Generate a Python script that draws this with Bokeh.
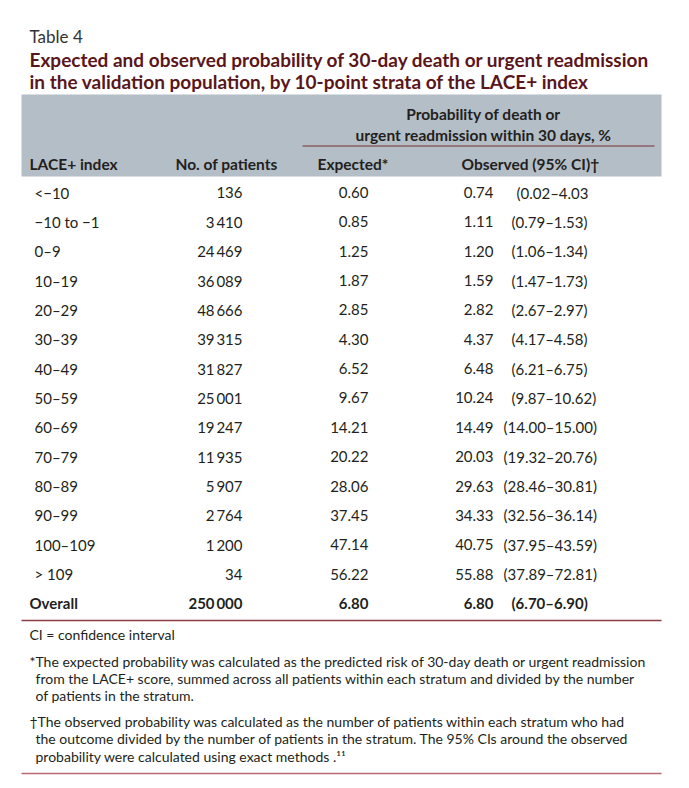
from bokeh.plotting import figure
from bokeh.models import Range1d
from bokeh.core.properties import value
from bokeh.embed import file_html
from bokeh.resources import INLINE

# ---------------- data ----------------
lace_index = ["<\u221210", "\u221210 to \u22121", "0\u20139", "10\u201319", "20\u201329", "30\u201339",
              "40\u201349", "50\u201359", "60\u201369", "70\u201379", "80\u201389", "90\u201399",
              "100\u2013109", "> 109"]
n_patients = [136, 3410, 24469, 36089, 48666, 39315, 31827, 25001, 19247, 11935, 5907, 2764, 1200, 34]
expected = [0.60, 0.85, 1.25, 1.87, 2.85, 4.30, 6.52, 9.67, 14.21, 20.22, 28.06, 37.45, 47.14, 56.22]
observed = [0.74, 1.11, 1.20, 1.59, 2.82, 4.37, 6.48, 10.24, 14.49, 20.03, 29.63, 34.33, 40.75, 55.88]
ci_low = [0.02, 0.79, 1.06, 1.47, 2.67, 4.17, 6.21, 9.87, 14.00, 19.32, 28.46, 32.56, 37.95, 37.89]
ci_high = [4.03, 1.53, 1.34, 1.73, 2.97, 4.58, 6.75, 10.62, 15.00, 20.76, 30.81, 36.14, 43.59, 72.81]
overall_label = "Overall"
overall_n = 250000
overall_expected = 6.80
overall_observed = 6.80
overall_ci_low = 6.70
overall_ci_high = 6.90

title_small = "Table 4"
title_lines = ["Expected and observed probability of 30-day death or urgent readmission",
               "in the validation population, by 10-point strata of the LACE+ index"]
group_header = ["Probability of death or", "urgent readmission within 30 days, %"]
col_headers = ["LACE+ index", "No. of patients", "Expected*", "Observed (95% CI)\u2020"]
footnotes = [
    ["CI = confidence interval"],
    ["*The expected probability was calculated as the predicted risk of 30-day death or urgent readmission",
     "from the LACE+ score, summed across all patients within each stratum and divided by the number",
     "of patients in the stratum."],
    ["\u2020The observed probability was calculated as the number of patients within each stratum who had",
     "the outcome divided by the number of patients in the stratum. The 95% CIs around the observed",
     "probability were calculated using exact methods .\u00b9\u00b9"],
]

# ---------------- helpers ----------------
def fmt_n(n):
    return f"{n:,}".replace(",", "\u2009")

def fmt_ci(lo, hi):
    return f"({lo:.2f}\u2013{hi:.2f})"

FONT = value("Lato")
TXT = "#231f20"
TITLE_C = "#5a161a"

W, H = 673, 776
p = figure(width=W, height=H, x_range=Range1d(0, W), y_range=Range1d(H, 0),
           output_backend="svg", toolbar_location=None, min_border=0,
           x_axis_type=None, y_axis_type=None)
p.grid.visible = False
p.outline_line_color = None
p.background_fill_color = "white"
p.border_fill_color = "white"

def txt(xs, ys, texts, size, align="left", bold=False, color=TXT):
    p.text(x=xs, y=ys, text=texts, text_font=FONT, text_font_size=value(size),
           text_align=align, text_baseline="middle", text_color=color,
           text_font_style="bold" if bold else "normal")

# title
txt([29], [36], [title_small], "17px", color="#333333")
txt([29, 29], [59, 81], title_lines, "19px", bold=True, color=TITLE_C)

# header band
p.quad(left=[21], right=[661], top=[94], bottom=[176], fill_color="#b4bec7", line_color=None)
txt([483, 483], [113, 134], group_header, "15.5px", align="center", bold=True)
p.segment(x0=[302], y0=[145.5], x1=[654], y1=[145.5], line_color="#7b3035", line_width=1.2)
txt([29, 175, 317, 461], [163] * 4, col_headers, "15.5px", bold=True)

# rows
row_y0, step = 192, 29.35
ys = [row_y0 + i * step for i in range(len(lace_index))]
ci_text = [fmt_ci(lo, hi) for lo, hi in zip(ci_low, ci_high)]
ci_text[0] = ci_text[0][:-1]  # as printed in the source table
ci_x = [503 if lo >= 10 else 511 for lo in ci_low]
ci_x[0] = 516

BODY = "15px"
txt([34] * len(ys), ys, lace_index, BODY)
txt([242] * len(ys), ys, [fmt_n(n) for n in n_patients], BODY, align="right")
txt([368] * len(ys), ys, [f"{v:.2f}" for v in expected], BODY, align="right")
txt([493] * len(ys), ys, [f"{v:.2f}" for v in observed], BODY, align="right")
txt(ci_x, ys, ci_text, BODY)

oy = row_y0 + len(lace_index) * step
txt([29], [oy], [overall_label], BODY, bold=True)
txt([242], [oy], [fmt_n(overall_n)], BODY, align="right", bold=True)
txt([368], [oy], [f"{overall_expected:.2f}"], BODY, align="right", bold=True)
txt([493], [oy], [f"{overall_observed:.2f}"], BODY, align="right", bold=True)
txt([511], [oy], [fmt_ci(overall_ci_low, overall_ci_high)], BODY, bold=True)

p.segment(x0=[21], y0=[620], x1=[661], y1=[620], line_color="#8a3d43", line_width=1.3)

# footnotes
FN = "14px"
txt([29], [634], footnotes[0], FN)
txt([29, 35, 35], [661, 678, 695], footnotes[1], FN)
txt([29, 35, 35], [721, 738, 756], footnotes[2], FN)

p.segment(x0=[21], y0=[773], x1=[661], y1=[773], line_color="#b86a70", line_width=1.5)

open("out.html", "w").write(file_html(p, INLINE))
